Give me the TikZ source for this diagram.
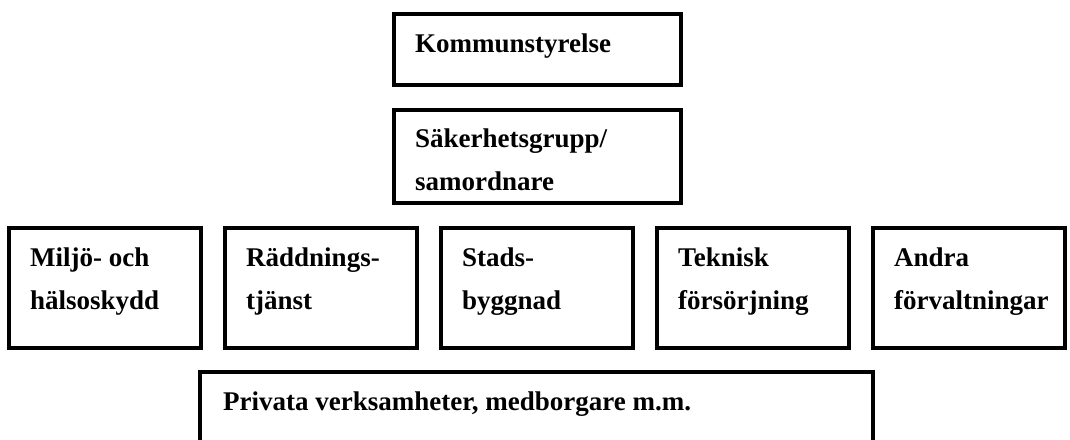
\documentclass[tikz,border=0pt]{standalone}
\usepackage{fontspec}
\setmainfont{Liberation Serif}
\newcommand\boxtext[2][190pt]{\parbox[t]{#1}{\raggedright #2}}
\tikzset{
  orgbox/.style={draw=black, line width=4pt, rectangle, inner sep=0pt, fill=none},
  orglbl/.style={anchor=base west, inner sep=0pt,
    font=\fontsize{27}{43}\selectfont\bfseries}
}
\begin{document}
\begin{tikzpicture}[x=1pt, y=-1pt]
  \clip (0,0) rectangle (1070,439);
  \fill[white] (0,0) rectangle (1070,439);

  % top of the organisation
  \node[orgbox, minimum width=287pt, minimum height=71pt] (ks) at (537.5,49.5) {};
  \node[orglbl] (ks-t) at (415,52) {\boxtext{Kommunstyrelse}};

  \node[orgbox, minimum width=287pt, minimum height=93pt] (sg) at (537.5,156.5) {};
  \node[orglbl] (sg-t) at (415,147) {\boxtext{Säkerhetsgrupp/\\samordnare}};

  % administrations
  \node[orgbox, minimum width=192pt, minimum height=120pt] (r1) at (105,288) {};
  \node[orgbox, minimum width=192pt, minimum height=120pt] (r2) at (321,288) {};
  \node[orgbox, minimum width=192pt, minimum height=120pt] (r3) at (537,288) {};
  \node[orgbox, minimum width=192pt, minimum height=120pt] (r4) at (753,288) {};
  \node[orgbox, minimum width=192pt, minimum height=120pt] (r5) at (969,288) {};

  \node[orglbl] (r1-t) at (30,266)  {\boxtext{Miljö- och\\hälsoskydd}};
  \node[orglbl] (r2-t) at (246,266) {\boxtext{Räddnings-\\tjänst}};
  \node[orglbl] (r3-t) at (462,266) {\boxtext{Stads-\\byggnad}};
  \node[orglbl] (r4-t) at (678,266) {\boxtext{Teknisk\\försörjning}};
  \node[orglbl] (r5-t) at (894,266) {\boxtext{Andra\\förvaltningar}};

  % private actors
  \node[orgbox, minimum width=673pt, minimum height=96pt] (priv) at (536.5,420) {};
  \node[orglbl] (priv-t) at (223,410) {\boxtext[620pt]{Privata verksamheter, medborgare m.m.}};
\end{tikzpicture}
\end{document}
